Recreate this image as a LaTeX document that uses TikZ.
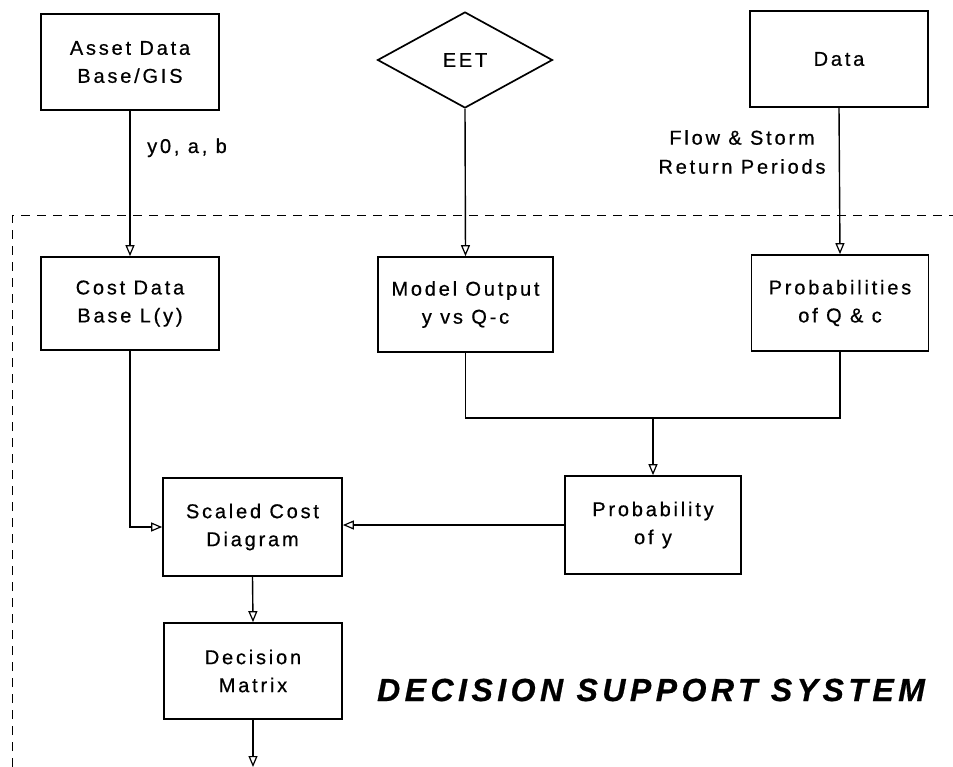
\documentclass[tikz,border=0pt]{standalone}
\usepackage{fontspec}
\setmainfont{Liberation Sans}[LetterSpace=14,FakeBold=0.6]
\usetikzlibrary{arrows.meta,shapes.geometric}
\begin{document}
\begin{tikzpicture}[x=1pt,y=-1pt,
  box/.style={draw,line width=1.7pt,inner sep=0pt,align=center,font=\fontsize{20}{28}\selectfont},
  conn/.style={line width=1.4pt},
  arr/.style={conn,-{Triangle[open,length=11pt,width=9pt,line width=1.2pt]}},
  lbl/.style={font=\fontsize{20}{29}\selectfont,inner sep=0pt,align=center},
  dsh/.style={line width=1pt,dash pattern=on 9pt off 7pt}]
\useasboundingbox (0,0) rectangle (953,767);
% dashed system boundary
\coordinate (dTL) at (12,216);
\coordinate (dTR) at (953,216);
\coordinate (dBL) at (12,767);
\draw[dsh] (dBL) -- (dTL) -- (dTR);
% nodes
\node[box,minimum width=178pt,minimum height=96pt] (asset) at (130,62) {Asset Data\\Base/GIS};
\node[draw,line width=1.7pt,diamond,inner sep=0pt,minimum width=175pt,minimum height=96pt,font=\fontsize{20}{28}\selectfont] (eet) at (465,60) {EET};
\node[box,minimum width=178pt,minimum height=96pt] (data) at (839,59) {Data};
\node[box,minimum width=178pt,minimum height=93pt] (cost) at (130,303.5) {Cost Data\\Base L(y)};
\node[box,minimum width=175pt,minimum height=95pt] (model) at (465.5,304.5) {Model Output\\y vs Q-c};
\node[box,minimum width=177pt,minimum height=96pt] (probqc) at (840,303) {Probabilities\\of Q \& c};
\node[box,minimum width=179pt,minimum height=98pt] (scaled) at (252.5,527) {Scaled Cost\\Diagram};
\node[box,minimum width=176pt,minimum height=98pt] (proby) at (653,525) {Probability\\of y};
\node[box,minimum width=178pt,minimum height=96pt] (decision) at (253,671) {Decision\\Matrix};
% labels
\node[lbl,anchor=base west] (lab1) at (147,153) {y0, a, b};
\node[lbl] (lab2) at (742,152) {Flow \& Storm\\Return Periods};
\node[inner sep=0pt,font=\fontsize{32}{38}\selectfont\bfseries\itshape] (title) at (651,690) {DECISION SUPPORT SYSTEM};
% connectors
\draw[arr] (asset.south) -- (cost.north);
\draw[arr] (eet.south) -- (model.north);
\draw[arr] (data.south) -- (probqc.north);
\coordinate (j) at (proby.north |- 0,418);
\draw[conn] (model.south) |- (j) -| (probqc.south);
\draw[arr] (j) -- (proby.north);
\draw[arr] (cost.south) |- (scaled.west);
\draw[arr] (proby.west) -- (scaled.east |- proby.west);
\draw[arr] (scaled.south) -- (decision.north);
\coordinate (out) at (decision.south |- 0,767);
\draw[arr] (decision.south) -- (out);
\end{tikzpicture}
\end{document}
